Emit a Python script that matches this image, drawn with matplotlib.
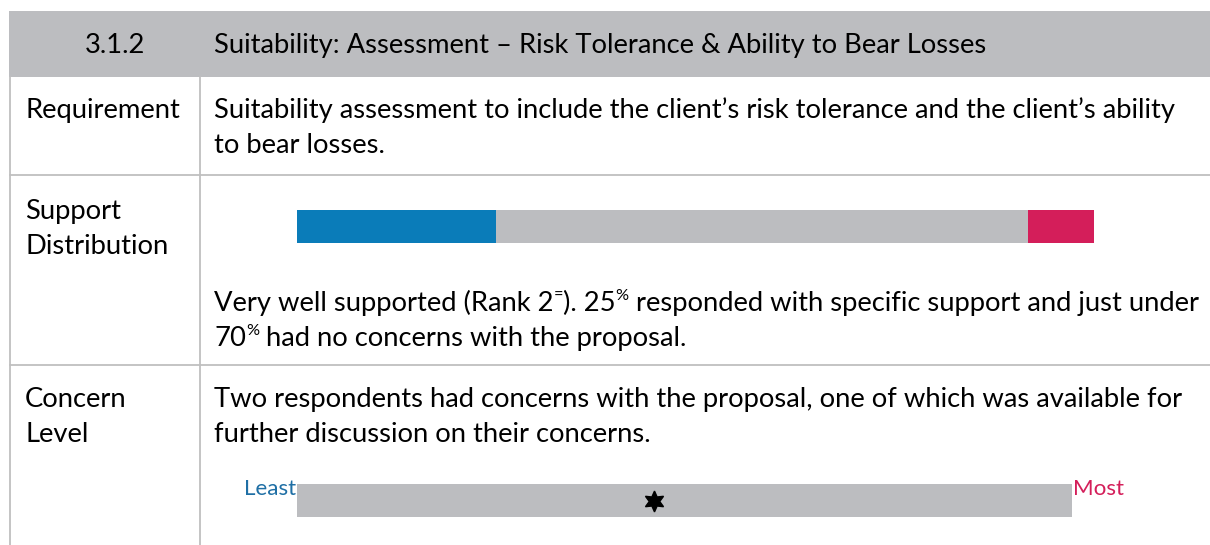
import matplotlib.pyplot as plt

plt.rcParams['font.family'] = ['Lato', 'DejaVu Sans']

# data
section = "3.1.2"
title = "Suitability: Assessment \u2013 Risk Tolerance & Ability to Bear Losses"
row_labels = [["Requirement"], ["Support", "Distribution"], ["Concern", "Level"]]
support_labels = ["Specific support", "No concerns", "Concerns"]
support_counts = [6, 16, 2]
support_colors = ["#0A7CB9", "#BCBDC0", "#D41E5A"]
concern_level = 0.46  # 0 = least, 1 = most

req_lines = ["Suitability assessment to include the client\u2019s risk tolerance and the client\u2019s ability",
             "to bear losses."]
support_lines = [[("Very well supported (Rank 2", 0), ("=", 1), ("). 25", 0), ("%", 1),
                  (" responded with specific support and just under", 0)],
                 [("70", 0), ("%", 1), (" had no concerns with the proposal.", 0)]]
concern_lines = ["Two respondents had concerns with the proposal, one of which was available for",
                 "further discussion on their concerns."]

W, H = 1210, 545
fig = plt.figure(figsize=(W / 100, H / 100), dpi=100)
ax = fig.add_axes([0, 0, 1, 1])
ax.set_xlim(0, W)
ax.set_ylim(H, 0)
ax.axis('off')
r = fig.canvas.get_renderer()

line_c = "#BFBFBF"
grey = "#BCBDC0"

# table frame
ax.add_patch(plt.Rectangle((9, 11), W, 66, color=grey, lw=0))
ax.plot([10, 10], [77, H], color=line_c, lw=1.3)
ax.plot([200, 200], [77, H], color=line_c, lw=1.3)
for y in [175, 365]:
    ax.plot([10, W], [y, y], color=line_c, lw=1.3)

# fit font size to the long requirement line
probe = ax.text(0, 0, req_lines[0], fontsize=10)
w10 = probe.get_window_extent(r).width
probe.remove()
fs = 10 * 963 / w10


def width(t):
    return t.get_window_extent(r).width


def space_w(size):
    a = ax.text(0, 0, "a a", fontsize=size)
    b = ax.text(0, 0, "aa", fontsize=size)
    d = width(a) - width(b)
    a.remove()
    b.remove()
    return d


def runs(x, y, parts):
    for s, sup in parts:
        size = fs * 0.6 if sup else fs
        if s.startswith(" "):
            x += space_w(size)
            s = s[1:]
        t = ax.text(x, y - (fs * 0.55 if sup else 0), s, fontsize=size, va='baseline')
        x += width(t)


ax.text(115, 53, section, fontsize=fs, ha='center', va='baseline')
ax.text(214, 53, title, fontsize=fs, va='baseline')

label_base = [118, 219, 407]
for lab, yb in zip(row_labels, label_base):
    for i, s in enumerate(lab):
        ax.text(25, yb + i * 35, s, fontsize=fs, va='baseline')

for i, s in enumerate(req_lines):
    ax.text(214, 118 + i * 35, s, fontsize=fs, va='baseline')
for i, p in enumerate(support_lines):
    runs(214, 311 + i * 35, p)
for i, s in enumerate(concern_lines):
    ax.text(214, 407 + i * 35, s, fontsize=fs, va='baseline')

# support distribution bar
bx = fig.add_axes([297 / W, 1 - 243 / H, 797 / W, 33 / H])
left = 0
for n, c in zip(support_counts, support_colors):
    bx.barh(0, n, left=left, height=1, color=c, lw=0)
    left += n
bx.set_xlim(0, sum(support_counts))
bx.set_ylim(-0.5, 0.5)
bx.axis('off')

# concern level bar
cx = fig.add_axes([297 / W, 1 - 517 / H, 775 / W, 33 / H])
cx.barh(0, 1, height=1, color=grey, lw=0)
cx.plot([concern_level], [0], marker=(6, 1, 0), markersize=15, color='black')
cx.set_xlim(0, 1)
cx.set_ylim(-0.5, 0.5)
cx.axis('off')

ax.text(296, 495, "Least", fontsize=fs * 0.82, color="#1F6FA5", ha='right', va='baseline')
ax.text(1073, 495, "Most", fontsize=fs * 0.82, color="#D41E5A", ha='left', va='baseline')

fig.savefig("out.png", dpi=100)
